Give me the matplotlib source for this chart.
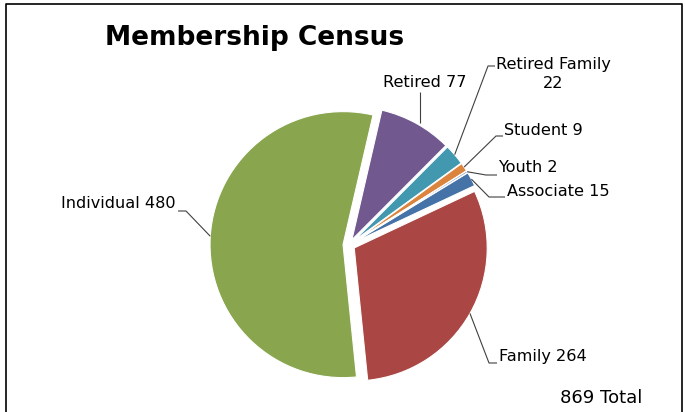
import numpy as np
import matplotlib
matplotlib.use("Agg")
import matplotlib.pyplot as plt

# membership counts, alphabetical, drawn clockwise like the Excel original
categories = ["Associate", "Family", "Individual", "Retired", "Retired Family", "Student", "Youth"]
members = [15, 264, 480, 77, 22, 9, 2]
colors = ["#4572A7", "#AA4643", "#89A54E", "#71588F", "#4198AF", "#DB843D", "#92A8CD"]
total_label = "869 Total"

W, H = 685, 412
fig = plt.figure(figsize=(W / 100, H / 100), dpi=100)
ax = fig.add_axes([0, 0, 1, 1])

cx, cy, radius = 349, H - 245, 133
gap = 0.045 * radius  # pie explode is in data units, not radius fractions
wedges, _ = ax.pie(
    members,
    colors=colors,
    startangle=31.4,
    counterclock=False,
    radius=radius,
    center=(cx, cy),
    explode=[gap] * len(members),
    wedgeprops=dict(edgecolor="white", linewidth=0.8),
    frame=True,
)
ax.set_xlim(0, W)
ax.set_ylim(0, H)
ax.set_aspect("equal")
ax.axis("off")

# label layout in image pixels: text pos, alignment, leader points after the rim
layout = {
    "Individual": ((176, 203), "right", [(186, 211), (178, 211)]),
    "Family": ((499, 357), "left", [(489, 363), (497, 363)]),
    "Associate": ((507, 191), "left", [(489, 197), (505, 197)]),
    "Youth": ((498, 167), "left", [(486, 175), (497, 175)]),
    "Student": ((504, 130), "left", [(496, 136), (503, 136)]),
    "Retired Family": ((553, 74), "center", [(488, 66), (495, 66)]),
    "Retired": ((425, 82), "center", [(420, 92)]),
}

for w, name, val in zip(wedges, categories, members):
    mid = np.deg2rad((w.theta1 + w.theta2) / 2)
    wx, wy = w.center
    rim = (wx + w.r * np.cos(mid), wy + w.r * np.sin(mid))
    (tx, ty), ha, pts = layout[name]
    xs = [rim[0]] + [p[0] for p in pts]
    ys = [rim[1]] + [H - p[1] for p in pts]
    if name == "Retired":
        xs[0] = pts[0][0]
    ax.plot(xs, ys, color="#404040", lw=0.8, solid_capstyle="butt")
    text = f"{name}\n{val}" if name == "Retired Family" else f"{name} {val}"
    ax.text(tx, H - ty, text, ha=ha, va="center", fontsize=11.6,
            color="black", linespacing=1.35)

ax.text(105, H - 38, "Membership Census", ha="left", va="center", fontsize=19,
        fontweight="bold")
ax.text(560, H - 398, total_label, ha="left", va="center", fontsize=13)

# chart border (bottom edge is cropped off)
ax.plot([6, 6, 682, 682], [0, H - 4, H - 4, 0], color="black", lw=1.2)

fig.savefig("out.png", dpi=100)
